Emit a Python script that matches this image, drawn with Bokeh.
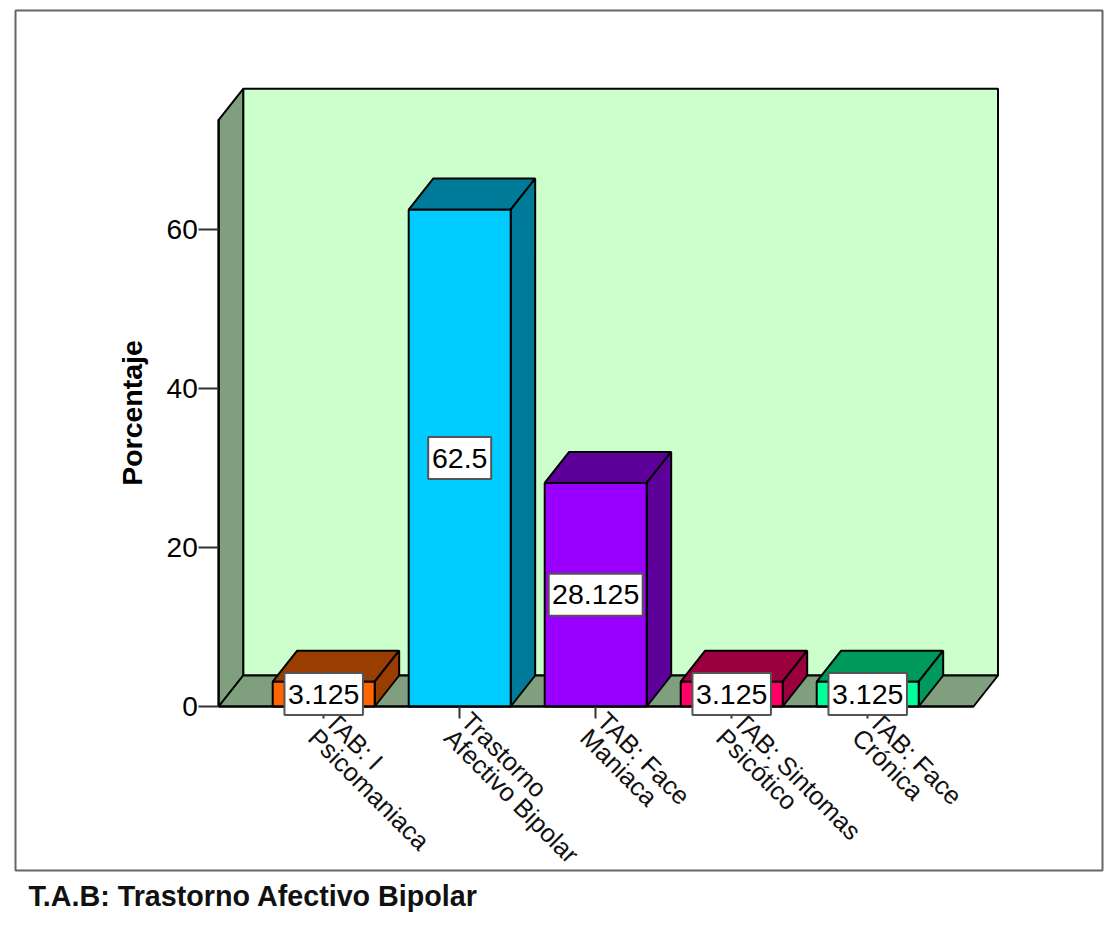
from bokeh.core.properties import value
from bokeh.embed import file_html
from bokeh.models import ColumnDataSource, FixedTicker, Range1d, Title
from bokeh.plotting import figure
from bokeh.resources import INLINE
import math

# Chart values
categories = ["TAB: I\nPsicomaniaca", "Trastorno\nAfectivo Bipolar", "TAB: Face\nManiaca",
              "TAB: Sintomas\nPsicótico", "TAB: Face\nCrónica"]
percentages = [3.125, 62.5, 28.125, 3.125, 3.125]
value_labels = ["3.125", "62.5", "28.125", "3.125", "3.125"]
y_ticks = [0, 20, 40, 60]

# Bar colours: front face and shaded faces
front_colors = ["#ff6600", "#00ccff", "#9900ff", "#ff0066", "#00ff99"]
shade_colors = ["#993d00", "#007a99", "#5c0099", "#99003d", "#00995c"]

FONT = "Liberation Sans"
WALL = "#7f9f7f"
BACK = "#ccffcc"

# Extrusion of the pseudo-3D box, in axis units
DX, DY = 0.18, 3.9
BAR_W = 0.75
X_MIN, X_MAX = -0.772, len(categories) - 1 + 0.778
Y_TOP = 73.8

p = figure(width=1117, height=932, output_backend="svg", toolbar_location=None,
           x_range=Range1d((15.8 - 324) / 136, (1102.8 - 324) / 136),
           y_range=Range1d((706 - 870) / 7.95, (706 - 10) / 7.95),
           min_border_left=15, min_border_right=15, min_border_top=10, min_border_bottom=62)
p.outline_line_color = "#666666"
p.outline_line_width = 2
p.xgrid.visible = False
p.ygrid.visible = False
p.background_fill_color = "white"

# Floor, left wall and back wall
p.patch([X_MIN + DX, X_MAX + DX, X_MAX + DX, X_MIN + DX], [DY, DY, Y_TOP + DY, Y_TOP + DY],
        fill_color=BACK, line_color="black", line_width=2)
p.patch([X_MIN, X_MIN + DX, X_MIN + DX, X_MIN], [0, DY, Y_TOP + DY, Y_TOP],
        fill_color=WALL, line_color="black", line_width=2)
p.patch([X_MIN, X_MAX, X_MAX + DX, X_MIN + DX], [0, 0, DY, DY],
        fill_color=WALL, line_color="black", line_width=2)

# Extruded bars
for i, v in enumerate(percentages):
    l, r = i - BAR_W / 2, i + BAR_W / 2
    p.patch([l, l + DX, r + DX, r], [v, v + DY, v + DY, v],
            fill_color=shade_colors[i], line_color="black", line_width=2)
    p.patch([r, r + DX, r + DX, r], [0, DY, v + DY, v],
            fill_color=shade_colors[i], line_color="black", line_width=2)
    p.patch([l, r, r, l], [0, 0, v, v],
            fill_color=front_colors[i], line_color="black", line_width=2)

# Axes pinned to the box edges
yax = p.yaxis[0]
yax.fixed_location = X_MIN
yax.bounds = (0, Y_TOP)
yax.ticker = FixedTicker(ticks=y_ticks)
yax.minor_tick_line_color = None
yax.major_tick_in = 0
yax.major_tick_out = 20
yax.major_tick_line_color = "#333333"
yax.major_tick_line_width = 2
yax.axis_line_color = "black"
yax.axis_line_width = 2
yax.major_label_standoff = 1
yax.major_label_text_font = FONT
yax.major_label_text_font_size = "28px"
yax.major_label_text_color = "black"
yax.axis_label = "Porcentaje"
yax.axis_label_text_font = FONT
yax.axis_label_text_font_size = "28.5px"
yax.axis_label_text_font_style = "bold"
yax.axis_label_text_color = "black"
yax.axis_label_standoff = 15

xax = p.xaxis[0]
xax.fixed_location = 0
xax.bounds = (X_MIN, X_MAX)
xax.ticker = FixedTicker(ticks=list(range(len(categories))))
xax.minor_tick_line_color = None
xax.major_tick_in = 0
xax.major_tick_out = 12
xax.major_tick_line_color = "#333333"
xax.major_tick_line_width = 2
xax.axis_line_color = "black"
xax.axis_line_width = 2
xax.major_label_overrides = {i: "" for i in range(len(categories))}

# Slanted category names
src = ColumnDataSource(dict(x=list(range(len(categories))), y=[0] * len(categories), text=categories))
p.text("x", "y", text="text", source=src, angle=-math.pi / 4, text_font=value(FONT),
       text_font_size="25.5px", text_color="#111111", text_align="left", text_baseline="top",
       text_line_height=0.85, x_offset=16, y_offset=0)

# Boxed value labels at half the bar height
lab = ColumnDataSource(dict(x=list(range(len(categories))), y=[v / 2 for v in percentages],
                            text=value_labels, w=[15.5 * len(t) + 1 for t in value_labels]))
p.rect("x", "y", width="w", height=42, width_units="screen", height_units="screen", source=lab,
       fill_color="white", line_color="#555555", line_width=2, level="annotation")
p.text("x", "y", text="text", source=lab, text_font=value(FONT), text_font_size="28.5px",
       text_color="black", text_align="center", text_baseline="middle", level="annotation")

note = Title(text="T.A.B: Trastorno Afectivo Bipolar", text_font=FONT, text_font_size="28.7px",
             text_font_style="bold", text_color="#111111", align="left", offset=13, standoff=15)
p.add_layout(note, "below")

open("out.html", "w").write(file_html(p, INLINE))
